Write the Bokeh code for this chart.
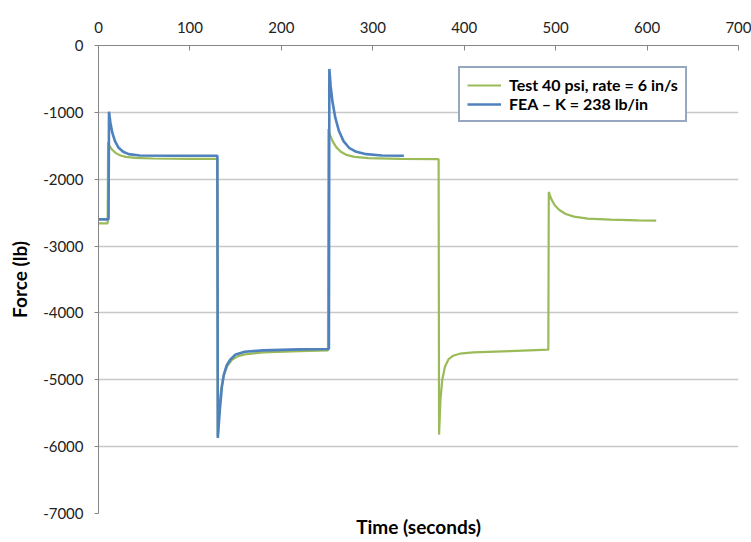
from bokeh.plotting import figure
from bokeh.models import (LinearAxis, FixedTicker, Range1d, Legend, LegendItem,
                          BasicTickFormatter, Grid)
from bokeh.embed import file_html
from bokeh.resources import INLINE

# ---- data ----
test_t = [0, 10, 10.5, 12, 15, 19, 24, 30, 40, 60, 100, 130,
          130.5, 132, 134, 137, 141, 146, 152, 160, 180, 220, 251,
          251.5, 253, 256, 260, 265, 271, 280, 295, 330, 372,
          372.5, 374, 376, 379, 383, 388, 395, 410, 450, 492,
          492.5, 495, 499, 504, 511, 520, 535, 560, 590, 610]
test_f = [-2660, -2660, -1450, -1500, -1560, -1610, -1645, -1665, -1680, -1690, -1695, -1695,
          -5850, -5450, -5150, -4930, -4790, -4700, -4650, -4620, -4590, -4570, -4560,
          -1250, -1330, -1430, -1520, -1590, -1635, -1665, -1685, -1695, -1700,
          -5820, -5300, -5000, -4800, -4690, -4640, -4610, -4590, -4570, -4550,
          -2190, -2290, -2390, -2460, -2520, -2560, -2590, -2605, -2615, -2620]

fea_t = [0, 11, 11.5, 13, 15, 18, 22, 27, 33, 45, 80, 130,
         130.5, 133, 135, 137, 140, 144, 150, 160, 180, 220, 252,
         252.5, 254, 256, 259, 263, 268, 274, 282, 293, 310, 334]
fea_f = [-2600, -2600, -990, -1150, -1300, -1430, -1530, -1590, -1625, -1645, -1650, -1650,
         -5870, -5400, -5100, -4930, -4790, -4700, -4620, -4580, -4560, -4545, -4540,
         -350, -620, -850, -1080, -1280, -1430, -1530, -1590, -1625, -1645, -1650]

x_ticks = [0, 100, 200, 300, 400, 500, 600, 700]
y_ticks = [0, -1000, -2000, -3000, -4000, -5000, -6000, -7000]

test_label = "Test 40 psi, rate = 6 in/s"
fea_label = "FEA \u2013 K = 238 lb/in"
x_title = "Time (seconds)"
y_title = "Force (lb)"

FONT = "Lato"

p = figure(width=751, height=542, output_backend="svg", toolbar_location=None,
           x_axis_location=None, y_axis_location=None,
           x_range=Range1d(0, 700), y_range=Range1d(-7000, 0),
           min_border_left=98, min_border_right=13, min_border_top=45,
           min_border_bottom=29)
p.outline_line_color = None
p.background_fill_color = "white"
p.border_fill_color = "white"
p.xgrid.grid_line_color = None
p.ygrid.grid_line_color = None

# top x axis
xa = LinearAxis(ticker=FixedTicker(ticks=x_ticks))
xa.axis_line_color = "#868686"
xa.major_tick_line_color = "#868686"
xa.major_tick_in = 5
xa.major_tick_out = 0
xa.minor_tick_line_color = None
xa.major_label_standoff = 13
xa.major_label_text_font = FONT
xa.major_label_text_font_size = "15px"
xa.major_label_text_color = "#222222"
p.add_layout(xa, "above")

# bottom: title only
xb = LinearAxis(ticker=FixedTicker(ticks=[]), axis_label=x_title)
xb.axis_line_color = None
xb.major_tick_line_color = None
xb.minor_tick_line_color = None
xb.axis_label_standoff = 1
xb.axis_label_text_font = FONT
xb.axis_label_text_font_style = "bold"
xb.axis_label_text_font_size = "19px"
xb.axis_label_text_color = "black"
p.add_layout(xb, "below")

# left y axis
ya = LinearAxis(ticker=FixedTicker(ticks=y_ticks), axis_label=y_title,
                formatter=BasicTickFormatter(use_scientific=False))
ya.major_label_overrides = {t: str(t) for t in y_ticks}
ya.axis_line_color = "#868686"
ya.major_tick_line_color = "#868686"
ya.major_tick_in = 0
ya.major_tick_out = 4
ya.minor_tick_line_color = None
ya.major_label_standoff = 11
ya.major_label_text_font = FONT
ya.major_label_text_font_size = "15px"
ya.major_label_text_color = "#222222"
ya.axis_label_standoff = 9
ya.axis_label_text_font = FONT
ya.axis_label_text_font_style = "bold"
ya.axis_label_text_font_size = "19px"
ya.axis_label_text_color = "black"
p.add_layout(ya, "left")

g = Grid(dimension=1, ticker=FixedTicker(ticks=y_ticks), grid_line_color="#C8C8C8",
         grid_line_width=1.5)
p.add_layout(g)

r_test = p.line(test_t, test_f, line_color="#9BBB59", line_width=2.2)
r_fea = p.line(fea_t, fea_f, line_color="#4F81BD", line_width=2.6)

legend = Legend(items=[LegendItem(label=test_label, renderers=[r_test]),
                       LegendItem(label=fea_label, renderers=[r_fea])],
                location=(360, 391))
legend.border_line_color = "#2E4F7F"
legend.border_line_width = 2
legend.background_fill_color = "white"
legend.background_fill_alpha = 1
legend.label_text_font = FONT
legend.label_text_font_style = "bold"
legend.label_text_font_size = "16px"
legend.label_text_color = "black"
legend.glyph_width = 34
legend.glyph_height = 18
legend.label_height = 18
legend.label_standoff = 8
legend.spacing = 0
legend.padding = 7
legend.margin = 0
p.add_layout(legend, "center")

open("out.html", "w").write(file_html(p, INLINE))
